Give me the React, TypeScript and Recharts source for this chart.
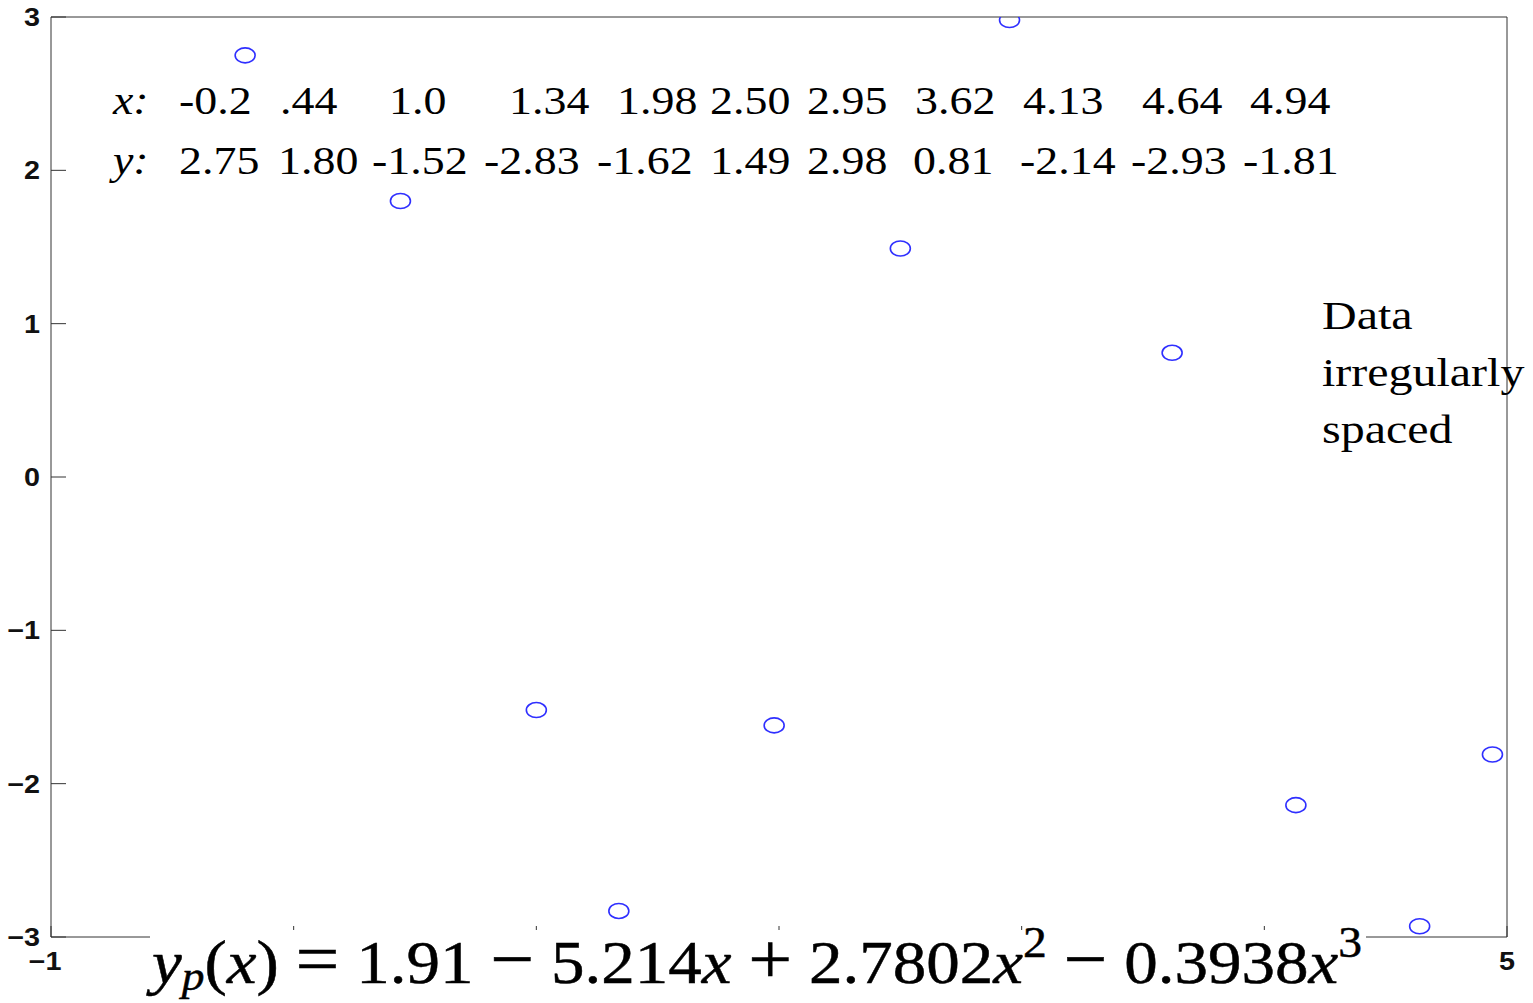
import { ScatterChart, Scatter, XAxis, YAxis } from "recharts";

// data points
const xValues = [-0.2, 0.44, 1.0, 1.34, 1.98, 2.5, 2.95, 3.62, 4.13, 4.64, 4.94];
const yValues = [2.75, 1.8, -1.52, -2.83, -1.62, 1.49, 2.98, 0.81, -2.14, -2.93, -1.81];

const xTicks = [-1, 0, 1, 2, 3, 4, 5];
const yTicks = [-3, -2, -1, 0, 1, 2, 3];

// the table printed in the top of the plot
const xRowLabels = ["-0.2", ".44", "1.0", "1.34", "1.98", "2.50", "2.95", "3.62", "4.13", "4.64", "4.94"];
const yRowLabels = ["2.75", "1.80", "-1.52", "-2.83", "-1.62", "1.49", "2.98", "0.81", "-2.14", "-2.93", "-1.81"];
const noteLines = ["Data", "irregularly", "spaced"];

// left edges (px) of the table cells
const xRowLeft = [179, 280, 389, 509, 617, 710, 807, 915, 1023, 1142, 1250];
const yRowLeft = [179, 278, 372, 484, 597, 710, 807, 913, 1020, 1131, 1243];

const W = 1533;
const H = 1003;
const AXIS = "#333";
const SERIF = "'Liberation Serif', 'Times New Roman', serif";
const SANS = "'Liberation Sans', Arial, Helvetica, sans-serif";

const points = xValues.map((x, i) => ({ x, y: yValues[i] }));

const fmt = (v: number) => String(v).replace("-", "\u2212");

const Marker = (props: any) => {
  const { cx, cy } = props;
  if (cx == null || cy == null) return <g />;
  return <ellipse cx={cx} cy={cy} rx={10} ry={7.5} fill="none" stroke="#2f2fff" strokeWidth={1.6} />;
};

const LeftTick = (props: any) => {
  const { x, y, payload } = props;
  return (
    <text
      transform={`translate(${x},${y + 9}) scale(1.15,1)`}
      textAnchor="end"
      fontFamily={SANS}
      fontWeight="bold"
      fontSize={25}
      fill="#111"
    >
      {fmt(payload.value)}
    </text>
  );
};

// only the end labels show; the middle ones sit under the equation box
const BottomTick = (props: any) => {
  const { x, y, payload } = props;
  const v = payload.value;
  if (v !== xTicks[0] && v !== xTicks[xTicks.length - 1]) return <g />;
  return (
    <text
      transform={`translate(${v < 0 ? x - 6 : x},${y}) scale(1.15,1)`}
      textAnchor="middle"
      fontFamily={SANS}
      fontWeight="bold"
      fontSize={25}
      fill="#111"
    >
      {fmt(v)}
    </text>
  );
};

function Cell({ x, y, text, italic }: { x: number; y: number; text: string; italic?: boolean }) {
  return (
    <text
      transform={`translate(${x},${y}) scale(1.12,1)`}
      fontFamily={SERIF}
      fontSize={41}
      fontStyle={italic ? "italic" : "normal"}
      fill="#000"
    >
      {text}
    </text>
  );
}

export default function App() {
  return (
    <div style={{ position: "absolute", left: 0, top: 0, width: W, height: H, background: "#fff" }}>
      <ScatterChart width={W} height={H} margin={{ top: 0, right: 0, bottom: 0, left: 0 }}>
        <XAxis
          xAxisId="bottom"
          type="number"
          dataKey="x"
          orientation="bottom"
          domain={[-1, 5]}
          ticks={xTicks}
          interval={0}
          allowDataOverflow
          height={66}
          tickSize={-11}
          tickMargin={44}
          axisLine={{ stroke: AXIS }}
          tickLine={{ stroke: AXIS }}
          tick={BottomTick}
        />
        <XAxis
          xAxisId="top"
          type="number"
          orientation="top"
          domain={[-1, 5]}
          ticks={xTicks}
          interval={0}
          allowDataOverflow
          height={17}
          tickSize={-11}
          axisLine={{ stroke: AXIS }}
          tickLine={{ stroke: AXIS }}
          tick={false}
        />
        <YAxis
          yAxisId="left"
          type="number"
          dataKey="y"
          orientation="left"
          domain={[-3, 3]}
          ticks={yTicks}
          interval={0}
          allowDataOverflow
          width={51}
          tickSize={-15}
          tickMargin={26}
          axisLine={{ stroke: AXIS }}
          tickLine={{ stroke: AXIS }}
          tick={LeftTick}
        />
        <YAxis
          yAxisId="right"
          type="number"
          orientation="right"
          domain={[-3, 3]}
          ticks={yTicks}
          interval={0}
          allowDataOverflow
          width={26}
          tickSize={-15}
          axisLine={{ stroke: AXIS }}
          tickLine={{ stroke: AXIS }}
          tick={false}
        />
        <Scatter
          xAxisId="bottom"
          yAxisId="left"
          data={points}
          shape={Marker}
          isAnimationActive={false}
        />
      </ScatterChart>

      <svg
        width={W}
        height={H}
        style={{ position: "absolute", left: 0, top: 0, pointerEvents: "none" }}
      >
        {/* data table */}
        <Cell x={113} y={114} text="x:" italic />
        {xRowLabels.map((t, i) => (
          <Cell key={"xr" + i} x={xRowLeft[i]} y={114} text={t} />
        ))}
        <Cell x={113} y={174} text="y:" italic />
        {yRowLabels.map((t, i) => (
          <Cell key={"yr" + i} x={yRowLeft[i]} y={174} text={t} />
        ))}

        {/* side note */}
        {noteLines.map((t, i) => (
          <text
            key={t}
            transform={`translate(1322,${329 + i * 57}) scale(1.17,1)`}
            fontFamily={SERIF}
            fontSize={41}
            fill="#000"
          >
            {t}
          </text>
        ))}

        {/* fitted polynomial, on a white box over the bottom axis */}
        <rect x={150} y={930} width={1216} height={73} fill="#fff" />
        <text
          x={152}
          y={983}
          fontFamily={SERIF}
          fontSize={62}
          fill="#000"
          stroke="#000"
          strokeWidth={0.5}
          textLength={1210}
          lengthAdjust="spacingAndGlyphs"
        >
          <tspan fontStyle="italic">y</tspan>
          <tspan fontStyle="italic" fontSize={42} dy={7}>p</tspan>
          <tspan dy={-7}>(</tspan>
          <tspan fontStyle="italic">x</tspan>
          <tspan>) </tspan>
          <tspan fontSize={72}>=</tspan>
          <tspan> 1.91 </tspan>
          <tspan fontSize={72}>−</tspan>
          <tspan> 5.214</tspan>
          <tspan fontStyle="italic">x</tspan>
          <tspan> </tspan>
          <tspan fontSize={72}>+</tspan>
          <tspan> 2.7802</tspan>
          <tspan fontStyle="italic">x</tspan>
          <tspan fontSize={44} dy={-26}>2</tspan>
          <tspan dy={26}> </tspan>
          <tspan fontSize={72}>−</tspan>
          <tspan> 0.3938</tspan>
          <tspan fontStyle="italic">x</tspan>
          <tspan fontSize={44} dy={-26}>3</tspan>
        </text>
      </svg>
    </div>
  );
}
